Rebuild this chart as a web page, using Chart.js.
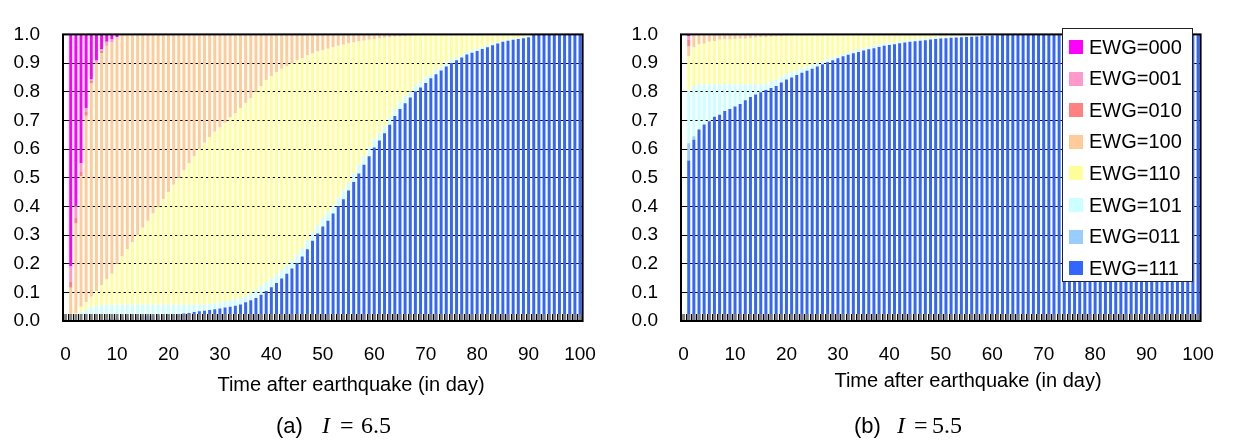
<!DOCTYPE html>
<html>
<head>
<meta charset="utf-8">
<script src="https://cdn.jsdelivr.net/npm/chart.js@4.4.1/dist/chart.umd.min.js"></script>
<style>
html, body { margin: 0; padding: 0; background: #fff; }
#wrap { position: relative; width: 1236px; height: 442px; overflow: hidden; }
.panel { position: absolute; top: 0; width: 618px; height: 442px; }
</style>
</head>
<body>
<div id="wrap">
  <div class="panel" style="left:0"><canvas id="chartA" width="618" height="442"></canvas></div>
  <div class="panel" style="left:618px"><canvas id="chartB" width="618" height="442"></canvas></div>
</div>
<script>
// stacked share of each EWG state per day after the quake
// (a) I = 6.5   (b) I = 5.5

const FONT = '"Liberation Sans", Arial, Helvetica, sans-serif';
const SERIF = '"Liberation Serif", "Times New Roman", serif';

const days = [0,1,2,3,4,5,6,7,8,9,10,11,12,13,14,15,16,17,18,19,20,21,22,23,24,25,26,27,28,29,30,
  31,32,33,34,35,36,37,38,39,40,41,42,43,44,45,46,47,48,49,50,51,52,53,54,55,56,57,58,59,60,
  61,62,63,64,65,66,67,68,69,70,71,72,73,74,75,76,77,78,79,80,81,82,83,84,85,86,87,88,89,90,
  91,92,93,94,95,96,97,98,99,100];
const xTickLabels = ['0','10','20','30','40','50','60','70','80','90','100'];
const yTickValues = [0, 0.1, 0.2, 0.3, 0.4, 0.5, 0.6, 0.7, 0.8, 0.9, 1.0];

// bottom of the stack first
const seriesNames = ['EWG=111','EWG=011','EWG=101','EWG=110','EWG=100','EWG=010','EWG=001','EWG=000'];
const seriesColors = ['#3366FF','#99CCFF','#CCFFFF','#FFFF99','#FFCC99','#FF8080','#FF99CC','#FF00FF'];

// ================= PANEL (a) =================
const a111 = [
  0,0,0,0,0,0,.002,.003,.006,.008,
  .01,.012,.013,.014,.015,.016,.017,.018,.019,.02,
  .021,.022,.024,.026,.028,.031,.034,.036,.038,.041,
  .044,.047,.05,.053,.058,.065,.072,.08,.092,.105,
  .118,.133,.148,.165,.183,.202,.225,.25,.28,.305,
  .33,.35,.375,.4,.425,.455,.485,.515,.545,.575,
  .605,.63,.655,.685,.715,.74,.76,.78,.8,.815,
  .83,.847,.861,.874,.888,.9,.91,.919,.93,.936,
  .942,.949,.955,.962,.968,.974,.978,.981,.984,.987,
  .99,1,1,1,1,1,1,1,1,1,
  1];
const a011 = [
  0,0,0,0,0,0,0,0,0,0, 0,0,0,0,0,0,0,0,0,0, 0,0,0,0,0,0,0,0,0,0,
  0,0,0,0,0,0,0,0,0,0, 0,0,0,0,0,0,0,0,0,0, 0,0,0,0,0,0,0,0,0,0,
  0,0,0,0,0,0,0,0,0,0, 0,0,0,0,0,0,0,0,0,0, 0,0,0,0,0,0,0,0,0,0,
  0,0,0,0,0,0,0,0,0,0, 0];
const a101 = [
  0,.008,.02,.032,.04,.048,.051,.053,.051,.049,
  .047,.045,.044,.043,.042,.041,.04,.039,.038,.037,
  .036,.035,.033,.031,.029,.026,.023,.021,.02,.021,
  .021,.021,.021,.022,.022,.023,.025,.028,.03,.03,
  .03,.03,.03,.03,.03,.03,.03,.03,.03,.03,
  .03,.03,.03,.03,.03,.03,.03,.03,.03,.03,
  .03,.025,.025,.025,.025,.025,.025,.02,.02,.02,
  .02,.014,.014,.014,.014,.014,.008,.008,.008,.008,
  .008,.005,.005,.005,.005,.005,.003,.003,.003,.003,
  .003,0,0,0,0,0,0,0,0,0,
  0];
const a110 = [
  0,.006,.008,.018,.025,.037,.052,.069,.088,.108,
  .143,.168,.193,.218,.243,.268,.293,.318,.343,.368,
  .393,.418,.443,.468,.493,.518,.543,.565,.584,.598,
  .61,.624,.639,.651,.663,.672,.68,.692,.698,.705,
  .707,.705,.702,.695,.687,.678,.663,.646,.623,.605,
  .585,.57,.55,.53,.509,.483,.457,.43,.403,.376,
  .349,.331,.308,.28,.252,.228,.209,.195,.176,.162,
  .148,.138,.125,.112,.098,.086,.082,.073,.062,.056,
  .05,.046,.04,.033,.027,.021,.019,.016,.013,.01,
  .007,0,0,0,0,0,0,0,0,0,
  0];
const a100 = [
  0,.102,.312,.455,.651,.744,.791,.81,.815,.808,
  .79,.775,.75,.725,.7,.675,.65,.625,.6,.575,
  .55,.525,.5,.475,.45,.425,.4,.378,.358,.34,
  .325,.308,.29,.274,.257,.24,.223,.2,.18,.16,
  .145,.132,.12,.11,.1,.09,.082,.074,.067,.06,
  .055,.05,.045,.04,.036,.032,.028,.025,.022,.019,
  .016,.014,.012,.01,.008,.007,.006,.005,.004,.003,
  .002,.001,0,0,0,0,0,0,0,0,
  0,0,0,0,0,0,0,0,0,0, 0,0,0,0,0,0,0,0,0,0,
  0];
const a010 = [
  0,.022,.02,.015,.015,.01,.005,.008,.005,.003,
  0,0,0,0,0,0,0,0,0,0, 0,0,0,0,0,0,0,0,0,0, 0,0,0,0,0,0,0,0,0,0,
  0,0,0,0,0,0,0,0,0,0, 0,0,0,0,0,0,0,0,0,0, 0,0,0,0,0,0,0,0,0,0,
  0,0,0,0,0,0,0,0,0,0, 0,0,0,0,0,0,0,0,0,0, 0,0,0,0,0,0,0,0,0,0,
  0];
const a001 = [
  0,.052,.04,.03,.012,.005,.008,.006,.009,.006,
  0,0,0,0,0,0,0,0,0,0, 0,0,0,0,0,0,0,0,0,0, 0,0,0,0,0,0,0,0,0,0,
  0,0,0,0,0,0,0,0,0,0, 0,0,0,0,0,0,0,0,0,0, 0,0,0,0,0,0,0,0,0,0,
  0,0,0,0,0,0,0,0,0,0, 0,0,0,0,0,0,0,0,0,0, 0,0,0,0,0,0,0,0,0,0,
  0];
const a000 = [
  0,.81,.6,.45,.257,.156,.091,.051,.026,.018,
  .01,0,0,0,0,0,0,0,0,0, 0,0,0,0,0,0,0,0,0,0, 0,0,0,0,0,0,0,0,0,0,
  0,0,0,0,0,0,0,0,0,0, 0,0,0,0,0,0,0,0,0,0, 0,0,0,0,0,0,0,0,0,0,
  0,0,0,0,0,0,0,0,0,0, 0,0,0,0,0,0,0,0,0,0, 0,0,0,0,0,0,0,0,0,0,
  0];

// ================= PANEL (b) =================
const b111 = [
  0,.56,.632,.668,.686,.697,.713,.72,.733,.74,
  .748,.757,.77,.782,.79,.798,.806,.813,.82,.832,
  .843,.85,.858,.866,.873,.88,.888,.896,.903,.91,
  .917,.924,.929,.934,.939,.944,.948,.952,.956,.96,
  .963,.966,.969,.972,.974,.976,.978,.98,.982,.984,
  .986,.987,.988,.989,.99,.991,.992,.993,.994,.995,
  .996,.997,.998,.999,1,1,1,1,1,1,
  1,1,1,1,1,1,1,1,1,1, 1,1,1,1,1,1,1,1,1,1, 1,1,1,1,1,1,1,1,1,1,
  1];
const b011 = [
  0,.06,.013,0,0,0,0,0,0,0,
  0,0,0,0,0,0,0,0,0,0, 0,0,0,0,0,0,0,0,0,0, 0,0,0,0,0,0,0,0,0,0,
  0,0,0,0,0,0,0,0,0,0, 0,0,0,0,0,0,0,0,0,0, 0,0,0,0,0,0,0,0,0,0,
  0,0,0,0,0,0,0,0,0,0, 0,0,0,0,0,0,0,0,0,0, 0,0,0,0,0,0,0,0,0,0,
  0];
const b101 = [
  0,.184,.175,.158,.14,.129,.113,.106,.093,.086,
  .078,.069,.056,.044,.036,.028,.022,.022,.022,.02,
  .02,.018,.016,.015,.014,.013,.012,.011,.01,.009,
  .008,.008,.008,.008,.008,.008,.008,.008,.008,.008,
  .008,.005,.005,.005,.005,.005,.005,.005,.005,.005,
  .005,.003,.003,.003,.003,.003,.003,.003,.002,.002,
  .002,.002,.002,.001,0,0,0,0,0,0,
  0,0,0,0,0,0,0,0,0,0, 0,0,0,0,0,0,0,0,0,0, 0,0,0,0,0,0,0,0,0,0,
  0];
const b110 = [
  0,.119,.135,.139,.141,.148,.151,.155,.156,.156,
  .158,.159,.159,.16,.162,.164,.163,.157,.151,.142,
  .132,.128,.122,.116,.11,.105,.098,.092,.086,.081,
  .075,.068,.063,.058,.053,.048,.044,.04,.036,.032,
  .029,.029,.026,.023,.021,.019,.017,.015,.013,.011,
  .009,.01,.009,.008,.007,.006,.005,.004,.004,.003,
  .002,.001,0,0,0,0,0,0,0,0,
  0,0,0,0,0,0,0,0,0,0, 0,0,0,0,0,0,0,0,0,0, 0,0,0,0,0,0,0,0,0,0,
  0];
const b100 = [
  0,.035,.042,.035,.033,.026,.023,.019,.018,.018,
  .016,.015,.015,.014,.012,.01,.009,.008,.007,.006,
  .005,.004,.004,.003,.003,.002,.002,.001,.001,0,
  0,0,0,0,0,0,0,0,0,0, 0,0,0,0,0,0,0,0,0,0, 0,0,0,0,0,0,0,0,0,0,
  0,0,0,0,0,0,0,0,0,0, 0,0,0,0,0,0,0,0,0,0, 0,0,0,0,0,0,0,0,0,0,
  0,0,0,0,0,0,0,0,0,0,
  0];
const b010 = [
  0,.023,0,0,0,0,0,0,0,0,
  0,0,0,0,0,0,0,0,0,0, 0,0,0,0,0,0,0,0,0,0, 0,0,0,0,0,0,0,0,0,0,
  0,0,0,0,0,0,0,0,0,0, 0,0,0,0,0,0,0,0,0,0, 0,0,0,0,0,0,0,0,0,0,
  0,0,0,0,0,0,0,0,0,0, 0,0,0,0,0,0,0,0,0,0, 0,0,0,0,0,0,0,0,0,0,
  0];
const b001 = [
  0,.013,.003,0,0,0,0,0,0,0,
  0,0,0,0,0,0,0,0,0,0, 0,0,0,0,0,0,0,0,0,0, 0,0,0,0,0,0,0,0,0,0,
  0,0,0,0,0,0,0,0,0,0, 0,0,0,0,0,0,0,0,0,0, 0,0,0,0,0,0,0,0,0,0,
  0,0,0,0,0,0,0,0,0,0, 0,0,0,0,0,0,0,0,0,0, 0,0,0,0,0,0,0,0,0,0,
  0];
const b000 = [
  0,.006,0,0,0,0,0,0,0,0,
  0,0,0,0,0,0,0,0,0,0, 0,0,0,0,0,0,0,0,0,0, 0,0,0,0,0,0,0,0,0,0,
  0,0,0,0,0,0,0,0,0,0, 0,0,0,0,0,0,0,0,0,0, 0,0,0,0,0,0,0,0,0,0,
  0,0,0,0,0,0,0,0,0,0, 0,0,0,0,0,0,0,0,0,0, 0,0,0,0,0,0,0,0,0,0,
  0];

// ================= PLUGINS =================
// frame + the dense inside tick marks along the bottom
const framePlugin = {
  id: 'frame',
  afterDatasetsDraw(chart) {
    const c = chart.ctx, a = chart.chartArea, xs = chart.scales.x;
    const meta = chart.getDatasetMeta(0);
    c.save();
    c.fillStyle = '#808080';
    meta.data.forEach(bar => {
      c.fillRect(bar.x - bar.width / 2, a.bottom - 7, bar.width, 7);
    });
    c.fillStyle = '#000';
    for (let i = 0; i < days.length - 1; i++) {
      const xb = Math.round((xs.getPixelForValue(i) + xs.getPixelForValue(i + 1)) / 2);
      c.fillRect(xb, a.bottom - 7, 1, 7);
    }
    c.strokeStyle = '#000';
    c.lineWidth = 2;
    c.strokeRect(a.left, a.top, a.right - a.left, a.bottom - a.top);
    c.restore();
  }
};

function textPlugin(title, titleX, titleY, tag, cap) {
  return {
    id: 'texts',
    afterDraw(chart) {
      const c = chart.ctx;
      c.save();
      c.fillStyle = '#000';
      c.textBaseline = 'alphabetic';
      c.textAlign = 'center';
      c.font = '20px ' + FONT;
      c.fillText(title, titleX, titleY);
      c.textAlign = 'left';
      c.font = '22px ' + FONT;
      c.fillText(tag, cap.tagX, cap.y);
      c.font = 'italic 24px ' + SERIF;
      c.fillText('I', cap.iX, cap.y);
      c.font = '24px ' + SERIF;
      c.fillText('=', cap.eqX, cap.y);
      c.fillText(cap.val, cap.valX, cap.y);
      c.restore();
    }
  };
}

const legendPlugin = {
  id: 'legendBox',
  afterDraw(chart) {
    const c = chart.ctx;
    const L = 444, T = 28, W = 130, H = 253;
    c.save();
    c.fillStyle = '#fff';
    c.fillRect(L, T, W, H);
    c.strokeStyle = '#222';
    c.lineWidth = 1;
    c.strokeRect(L + 0.5, T + 0.5, W, H);
    c.font = '20px ' + FONT;
    c.textBaseline = 'middle';
    c.textAlign = 'left';
    chart.data.datasets.slice().reverse().forEach((ds, i) => {
      const cy = T + 19 + i * 31.6;
      c.fillStyle = ds.backgroundColor;
      c.fillRect(L + 7, Math.round(cy - 7), 14, 14);
      c.fillStyle = '#000';
      c.fillText(ds.label, L + 27, cy + 1);
    });
    c.restore();
  }
};

// ================= CHART =================
function buildChart(id, series, extraPlugins) {
  const ctx = document.getElementById(id).getContext('2d');
  return new Chart(ctx, {
    type: 'bar',
    data: {
      labels: days,
      datasets: series.map((vals, k) => ({
        label: seriesNames[k],
        data: vals,
        backgroundColor: seriesColors[k],
        borderWidth: 0,
        barPercentage: 0.58,
        categoryPercentage: 1
      }))
    },
    options: {
      responsive: false,
      animation: false,
      devicePixelRatio: 1,
      layout: { padding: { top: 11, right: 24, bottom: 0, left: 0 } },
      plugins: { legend: { display: false }, tooltip: { enabled: false } },
      scales: {
        x: {
          stacked: true,
          offset: true,
          grid: { display: false, drawTicks: false },
          border: { display: false },
          ticks: {
            autoSkip: false, maxRotation: 0, minRotation: 0, padding: 22,
            color: '#000', font: { family: FONT, size: 19 },
            callback: (v, i) => xTickLabels.includes(String(days[i])) ? String(days[i]) : ''
          },
          afterFit: s => { s.height = 121; }
        },
        y: {
          stacked: true,
          min: 0,
          max: 1,
          afterBuildTicks: s => { s.ticks = yTickValues.map(v => ({ value: v })); },
          grid: { color: '#000', lineWidth: 1, drawTicks: false },
          border: { display: false },
          ticks: {
            padding: 23, color: '#000', font: { family: FONT, size: 19 },
            callback: v => Number(v).toFixed(1)
          },
          afterFit: s => { s.width = 63; }
        }
      }
    },
    plugins: [framePlugin].concat(extraPlugins)
  });
}

buildChart('chartA', [a111, a011, a101, a110, a100, a010, a001, a000], [
  textPlugin('Time after earthquake (in day)', 351, 391, '(a)',
    { y: 433, tagX: 276, iX: 322, eqX: 340, val: '6.5', valX: 361 })
]);

buildChart('chartB', [b111, b011, b101, b110, b100, b010, b001, b000], [
  legendPlugin,
  textPlugin('Time after earthquake (in day)', 350, 387, '(b)',
    { y: 433, tagX: 236, iX: 279, eqX: 296, val: '5.5', valX: 314 })
]);
</script>
</body>
</html>
